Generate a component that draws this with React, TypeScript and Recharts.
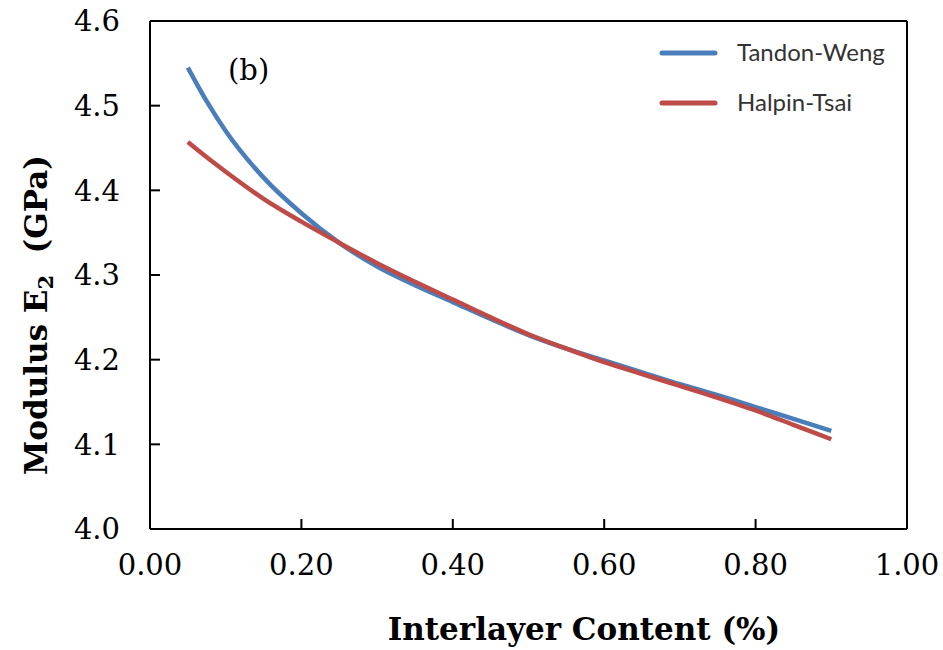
import { LineChart, Line, XAxis, YAxis, ReferenceLine, Customized } from 'recharts';

// interlayer content fraction
const content = [0.05, 0.075, 0.1, 0.15, 0.2, 0.25, 0.3, 0.35, 0.4, 0.45, 0.5, 0.55, 0.6, 0.65, 0.7, 0.75, 0.8, 0.85, 0.9];
const tandonWeng = [4.545, 4.505, 4.470, 4.415, 4.373, 4.338, 4.310, 4.288, 4.268, 4.248, 4.229, 4.213, 4.199, 4.185, 4.171, 4.158, 4.144, 4.130, 4.116];
const halpinTsai = [4.457, 4.439, 4.422, 4.390, 4.363, 4.338, 4.314, 4.292, 4.271, 4.250, 4.230, 4.213, 4.197, 4.183, 4.169, 4.155, 4.140, 4.123, 4.106];
const xTicks = [0, 0.2, 0.4, 0.6, 0.8, 1.0];
const yTicks = [4.0, 4.1, 4.2, 4.3, 4.4, 4.5, 4.6];
const seriesNames = ['Tandon-Weng', 'Halpin-Tsai'];

const BLUE = '#4A7EBB';
const RED = '#BE4B48';
const SERIF = '"DejaVu Serif", serif';

const data = content.map((c, i) => ({ c, tw: tandonWeng[i], ht: halpinTsai[i] }));

// ticks point inward, so draw them ourselves
const XTick = ({ x, y, payload }: any) => (
  <g>
    <line x1={x} y1={y} x2={x} y2={y - 10} stroke="#000" strokeWidth={2} />
    <text x={x} y={y + 46} textAnchor="middle" fontFamily={SERIF} fontSize={29} fill="#000">
      {payload.value.toFixed(2)}
    </text>
  </g>
);

const YTick = ({ x, y, payload }: any) => (
  <g>
    <line x1={x} y1={y} x2={x + 10} y2={y} stroke="#000" strokeWidth={2} />
    <text x={x - 30} y={y} dy="0.36em" textAnchor="end" fontFamily={SERIF} fontSize={29} fill="#000">
      {payload.value.toFixed(1)}
    </text>
  </g>
);

const XTitle = () => (
  <text x={584} y={640} textAnchor="middle" fontFamily={SERIF} fontWeight="bold" fontSize={31} fill="#000">
    Interlayer Content (%)
  </text>
);

const YTitle = () => (
  <text
    x={47}
    y={315}
    transform="rotate(-90, 47, 315)"
    textAnchor="middle"
    fontFamily={SERIF}
    fontWeight="bold"
    fontSize={31}
    fill="#000"
    style={{ whiteSpace: 'pre' }}
  >
    Modulus E<tspan fontSize={21} dy={6}>2</tspan>
    <tspan dy={-6}>{'  (GPa)'}</tspan>
  </text>
);

const LegendAndNote = () => (
  <g>
    {[BLUE, RED].map((color, i) => (
      <g key={seriesNames[i]}>
        <line x1={662} y1={53 + i * 50} x2={715} y2={53 + i * 50} stroke={color} strokeWidth={5} strokeLinecap="round" />
        <text x={737} y={53 + i * 50} dy="0.35em" fontFamily="Lato, sans-serif" fontSize={24} fill="#333">
          {seriesNames[i]}
        </text>
      </g>
    ))}
    <text x={228} y={80} fontFamily={SERIF} fontSize={29} fill="#000">
      (b)
    </text>
  </g>
);

const App = () => {
  return (
    <div style={{ position: 'absolute', left: 0, top: 0 }}>
      <LineChart width={943} height={650} data={data} margin={{ top: 21, right: 36, bottom: 21, left: 0 }}>
        <XAxis
          dataKey="c"
          type="number"
          domain={[0, 1]}
          ticks={xTicks}
          stroke="#000"
          strokeWidth={2}
          tickLine={false}
          tickSize={0}
          tickMargin={0}
          tick={<XTick />}
          height={100}
          label={<XTitle />}
        />
        <YAxis
          type="number"
          domain={[4.0, 4.6]}
          ticks={yTicks}
          stroke="#000"
          strokeWidth={2}
          tickLine={false}
          tickSize={0}
          tickMargin={0}
          tick={<YTick />}
          width={150}
          label={<YTitle />}
        />
        <ReferenceLine y={4.6} stroke="#000" strokeWidth={2} />
        <ReferenceLine x={1.0} stroke="#000" strokeWidth={2} />
        <Line type="monotone" dataKey="tw" stroke={BLUE} strokeWidth={4.5} dot={false} isAnimationActive={false} />
        <Line type="monotone" dataKey="ht" stroke={RED} strokeWidth={4.5} dot={false} isAnimationActive={false} />
        <Customized component={LegendAndNote} />
      </LineChart>
    </div>
  );
};

export default App;
